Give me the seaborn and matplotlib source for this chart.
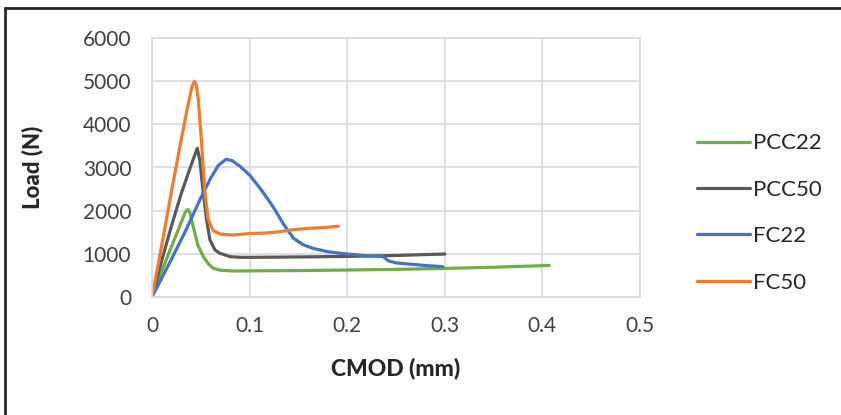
import seaborn as sns
import matplotlib.pyplot as plt
from matplotlib.lines import Line2D
import pandas as pd

# CMOD (mm) and load (N)
pcc22_x = [0, 0.009, 0.018, 0.027, 0.034, 0.0366, 0.039, 0.0423, 0.047, 0.0526, 0.058, 0.0628, 0.07,
           0.083, 0.1, 0.15, 0.2, 0.25, 0.3, 0.35, 0.407]
pcc22_y = [0, 540, 1060, 1560, 1960, 2031, 1950, 1629, 1200, 934, 760, 664, 620,
           602, 605, 612, 625, 640, 662, 690, 730]

pcc50_x = [0, 0.01, 0.02, 0.03, 0.04, 0.0464, 0.049, 0.0526, 0.056, 0.0594, 0.0645, 0.0697, 0.08,
           0.09, 0.1, 0.15, 0.2, 0.25, 0.3]
pcc50_y = [0, 850, 1650, 2400, 3050, 3444, 3170, 2400, 1780, 1320, 1090, 1012, 934,
           920, 918, 928, 940, 962, 996]

fc22_x = [0, 0.02, 0.035, 0.049, 0.06, 0.068, 0.0758, 0.082, 0.09, 0.1, 0.112, 0.124, 0.135,
          0.145, 0.155, 0.165, 0.18, 0.193, 0.215, 0.237, 0.242, 0.25, 0.265, 0.28, 0.298]
fc22_y = [0, 880, 1560, 2247, 2750, 3050, 3190, 3160, 3030, 2826, 2480, 2092, 1680,
          1359, 1210, 1127, 1050, 1012, 965, 934, 840, 790, 760, 730, 702]

fc50_x = [0, 0.01, 0.02, 0.0287, 0.036, 0.041, 0.0435, 0.0455, 0.0475, 0.0508, 0.0543, 0.0577,
          0.0628, 0.07, 0.083, 0.1, 0.115, 0.13, 0.145, 0.16, 0.175, 0.191]
fc50_y = [0, 1200, 2450, 3500, 4350, 4880, 5000, 4900, 4560, 3567, 2400, 1780,
          1536, 1460, 1436, 1470, 1480, 1510, 1560, 1590, 1605, 1640]

series = ["PCC22", "PCC50", "FC22", "FC50"]
colors = ["#70AD47", "#595959", "#4472C4", "#ED7D31"]

frames = []
for name, xs, ys in zip(series, [pcc22_x, pcc50_x, fc22_x, fc50_x], [pcc22_y, pcc50_y, fc22_y, fc50_y]):
    frames.append(pd.DataFrame({"CMOD": xs, "Load": ys, "mix": name}))
df = pd.concat(frames, ignore_index=True)

sns.set_style("white")
plt.rcParams['font.family'] = ['Lato', 'DejaVu Sans']

fig = plt.figure(figsize=(8.41, 4.15), dpi=100)
ax = fig.add_axes([152 / 841, 1 - 297 / 415, 488 / 841, 259 / 415])

sns.lineplot(data=df, x="CMOD", y="Load", hue="mix", palette=colors, hue_order=series,
             sort=False, estimator=None, linewidth=2.3, legend=False, ax=ax)

ax.set_xlim(0, 0.5)
ax.set_ylim(0, 6000)
ax.set_xticks([0, 0.1, 0.2, 0.3, 0.4, 0.5])
ax.set_xticklabels(["0", "0.1", "0.2", "0.3", "0.4", "0.5"])
ax.set_yticks(range(0, 6001, 1000))
ax.grid(True, color="#D9D9D9", linewidth=1.2)
ax.set_axisbelow(True)
for s in ax.spines.values():
    s.set_color("#D9D9D9")
    s.set_linewidth(1.2)
ax.tick_params(length=0, labelsize=15, colors="#404040")
ax.tick_params(axis="y", pad=15)
ax.tick_params(axis="x", pad=14)
ax.set_xlabel("CMOD (mm)", fontsize=16.5, fontweight="black", va="center")
ax.set_ylabel("Load (N)", fontsize=16, fontweight="black", va="center")
ax.xaxis.set_label_coords(0.5, (297 - 368) / 259)
ax.yaxis.set_label_coords((32 - 152) / 488, 0.5)

handles = [Line2D([0], [0], color=c, linewidth=2.3) for c in colors]
fig.legend(handles, series, loc="center left", bbox_to_anchor=(677 / 841, 1 - 213 / 415),
           frameon=False, fontsize=16, handlelength=2.4, handletextpad=0.13,
           labelspacing=1.19, labelcolor="#262626")

# outer frame (top and left edges visible in the crop)
fig.add_artist(Line2D([5 / 841, 5 / 841], [0, 1 - 8 / 415], color="#262626", linewidth=2,
                      transform=fig.transFigure))
fig.add_artist(Line2D([5 / 841, 1], [1 - 8 / 415, 1 - 8 / 415], color="#262626", linewidth=2,
                      transform=fig.transFigure))

fig.savefig("out.png", dpi=100)
